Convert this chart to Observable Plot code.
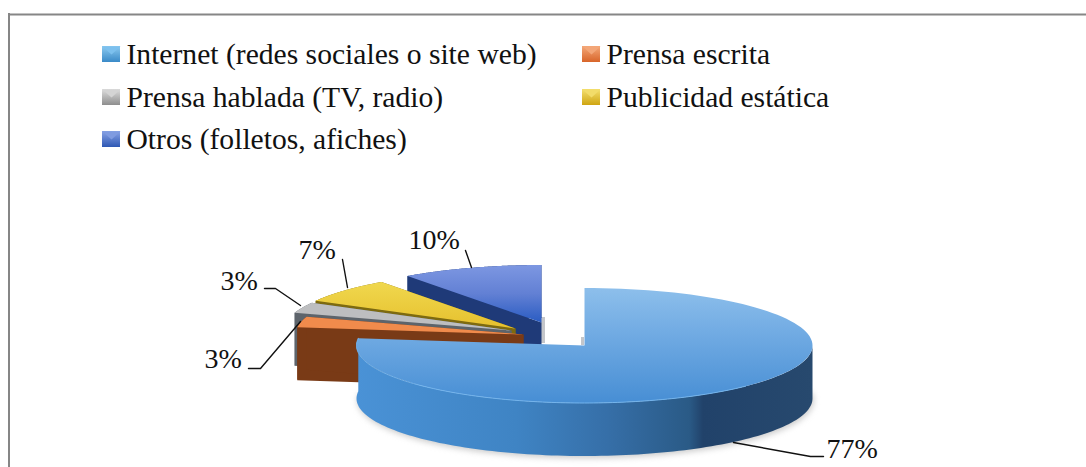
<!DOCTYPE html>
<html>
<head>
<meta charset="utf-8">
<script src="https://cdn.jsdelivr.net/npm/d3@7"></script>
<script src="https://cdn.jsdelivr.net/npm/@observablehq/plot@0.6"></script>
<style>
html,body{margin:0;padding:0;background:#fff}
svg{display:block}
</style>
</head>
<body>
<div id="chart"></div>
<script>
// ---- data ----
const categories = ["Internet (redes sociales o site web)", "Prensa escrita", "Prensa hablada (TV, radio)", "Publicidad estática", "Otros (folletos, afiches)"];
const shares = [77, 3, 3, 7, 10];

// ---- layout ----
const W = 1086, H = 467;
const apexX = [584, 523, 511, 515, 541];
const apexY = [345, 334, 330, 328, 322];
const radiusX = 228, radiusY = 57.5, depth = 53;
const topFill = ["url(#gTopInternet)", "#f08b4c", "#bdbec0", "url(#gTopYellow)", "url(#gTopOtros)"];
const wallFill = ["url(#gWallInternet)", "#793a16", "#5d646b", "#7d6a10", "#1f3a78"];
const swatchFill = ["url(#gSwA)", "url(#gSwB)", "url(#gSwC)", "url(#gSwD)", "url(#gSwE)"];
const swatchLight = ["#7cc0ee", "#f3a678", "#d4d4d4", "#f2dc6a", "#7f9be0"];
const legendCol = [0, 1, 0, 1, 0];
const legendRow = [0, 0, 1, 1, 2];
const legendSwatchX = [102, 582], legendTextX = [126, 606], legendBase = [63, 106, 148];
const labelX = [826, 204, 220, 298, 408], labelBase = [457, 367, 289, 258, 248];
const leaderPts = [
  [[733, 442], [810, 456], [823, 456]],
  [[248, 368], [260, 368], [300, 321]],
  [[264, 288], [275, 288], [300, 305]],
  [[342, 259], [347, 287]],
  [[465, 250], [471, 267]]
];

// ---- geometry from the shares ----
const total = d3.sum(shares);
let acc = 0;
const slices = shares.map((v, i) => {
  const a0 = acc / total * 2 * Math.PI; acc += v;
  return {i, a0, a1: acc / total * 2 * Math.PI};
});
const rim = (s, a) => [apexX[s.i] + radiusX * Math.sin(a), apexY[s.i] - radiusY * Math.cos(a)];
const arc = (s, from, to) => d3.range(0, 121).map(k => rim(s, from + (to - from) * k / 120));
const topPoly = s => [[apexX[s.i], apexY[s.i]], ...arc(s, s.a0, s.a1)];
const down = pts => pts.map(([x, y]) => [x, y + depth]);
const sidePoly = pts => [...pts, ...down(pts).reverse()];

const poly = (pts, fill, extra = {}) => Plot.line(pts, {x: d => d[0], y: d => d[1], fill, stroke: "none", curve: "linear-closed", ...extra});

const marks = [];
const gradient = (id, x2, y2, stops) => `<linearGradient id="${id}" x1="0" y1="0" x2="${x2}" y2="${y2}">${stops.map(([o, c]) => `<stop offset="${o}" stop-color="${c}"/>`).join("")}</linearGradient>`;
marks.push(() => {
  const g = document.createElementNS("http://www.w3.org/2000/svg", "defs");
  g.innerHTML = [
    gradient("gTopInternet", 0, 1, [[0, "#8dbfeb"], [0.35, "#74ade4"], [1, "#478ed4"]]),
    gradient("gWallInternet", 1, 0, [[0, "#4a92d6"], [0.35, "#3f84c4"], [0.55, "#366fa8"], [0.73, "#2a5a86"], [0.76, "#21426a"], [1, "#27496e"]]),
    gradient("gTopYellow", 0, 1, [[0, "#f0d84e"], [1, "#e6c02e"]]),
    gradient("gTopOtros", 0, 1, [[0, "#7d97e2"], [0.5, "#6280d4"], [1, "#2a5cc2"]]),
    gradient("gSwA", 0, 1, [[0, "#8ccaf0"], [1, "#3a8ac8"]]),
    gradient("gSwB", 0, 1, [[0, "#f4a878"], [1, "#d8652a"]]),
    gradient("gSwC", 0, 1, [[0, "#dedede"], [1, "#8e8e8e"]]),
    gradient("gSwD", 0, 1, [[0, "#f4e070"], [1, "#cfa512"]]),
    gradient("gSwE", 0, 1, [[0, "#8aa4e6"], [1, "#2e58b4"]])
  ].join("");
  return g;
});
// page frame
marks.push(Plot.ruleY([14], {x1: 8, x2: W, stroke: "#868686", strokeWidth: 2}));
marks.push(Plot.ruleX([8.5], {y1: 13, y2: H, stroke: "#868686", strokeWidth: 2}));

// soft shadow beneath the pie and beside the cuts
const big = slices[0];
marks.push(poly([...arc(big, Math.PI / 2 - 0.15, big.a1).map(([x, y]) => [x + 1, y + depth + 2])], "#9a9a9a", {imageFilter: "blur(3px)", fillOpacity: 0.55}));
marks.push(Plot.rect([0], {x1: apexX[4], x2: apexX[4] + 4, y1: apexY[4] - 5, y2: apexY[4] + 21, fill: "#c4c6ca", imageFilter: "blur(0.6px)"}));
marks.push(Plot.rect([0], {x1: apexX[0] - 3, x2: apexX[0], y1: apexY[0] - 8, y2: apexY[0], fill: "#c4c6ca", imageFilter: "blur(0.6px)"}));

// back to front: exploded slices, then the big one
const soft = {imageFilter: "blur(0.4px)"};
for (const i of [4, 3, 2, 1]) {
  const s = slices[i];
  const a = rim(s, s.a0), b = rim(s, s.a1), c = [apexX[i], apexY[i]];
  marks.push(poly(sidePoly(arc(s, s.a0, s.a1)), wallFill[i], soft));
  marks.push(poly(sidePoly([a, c]), wallFill[i], soft));
  marks.push(poly(sidePoly([b, c]), wallFill[i], soft));
  marks.push(poly(topPoly(s), topFill[i], soft));
}
const frontFrom = Math.PI / 2;
marks.push(poly(sidePoly(arc(big, frontFrom, big.a1)), wallFill[0], soft));
marks.push(poly(topPoly(big), topFill[0], soft));
marks.push(Plot.line(arc(big, Math.PI * 0.75, big.a1), {x: d => d[0], y: d => d[1], stroke: "#74b4ec", strokeWidth: 1, ...soft}));

// leaders and labels
leaderPts.forEach(pts => marks.push(Plot.line(pts, {x: d => d[0], y: d => d[1], stroke: "#111", strokeWidth: 1.4, curve: "linear"})));
marks.push(Plot.text(shares, {
  x: (d, i) => labelX[i], y: (d, i) => labelBase[i], text: d => `${d}%`,
  textAnchor: "start", lineAnchor: "bottom", fontSize: 28, fontFamily: "Liberation Serif", fill: "#111"
}));

// legend
categories.forEach((c, i) => {
  const x0 = legendSwatchX[legendCol[i]], y0 = legendBase[legendRow[i]] - 17;
  marks.push(Plot.rect([0], {x1: x0, x2: x0 + 18, y1: y0, y2: y0 + 16, fill: swatchFill[i]}));
  marks.push(poly([[x0, y0], [x0 + 18, y0], [x0 + 9, y0 + 8]], swatchLight[i]));
});
marks.push(Plot.text(categories, {
  x: (d, i) => legendTextX[legendCol[i]], y: (d, i) => legendBase[legendRow[i]], text: d => d,
  textAnchor: "start", lineAnchor: "bottom", fontSize: 29.6, fontFamily: "Liberation Serif", fill: "#111"
}));

const chart = Plot.plot({
  width: W, height: H, margin: 0,
  x: {type: "linear", domain: [0, W], range: [0, W], axis: null},
  y: {type: "linear", domain: [0, H], range: [0, H], axis: null},
  style: {background: "#fff"},
  marks
});
document.getElementById("chart").append(chart);
</script>
</body>
</html>
